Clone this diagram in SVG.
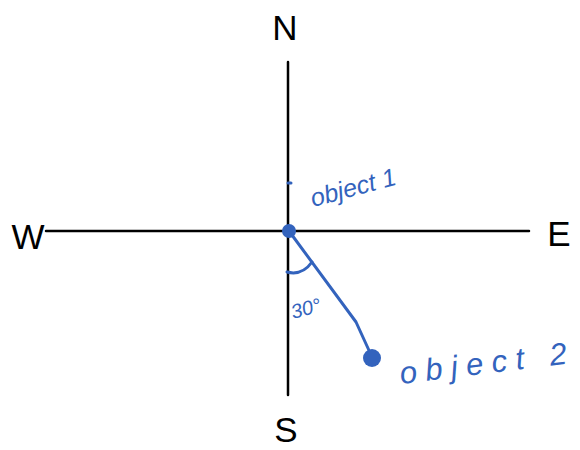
<svg xmlns="http://www.w3.org/2000/svg" width="580" height="450" viewBox="0 0 580 450">
<style>
.axis{stroke:#000;stroke-width:2.5;fill:none;stroke-linecap:round}
.blue{stroke:#3363bd;stroke-width:3;fill:none;stroke-linecap:round;stroke-linejoin:round}
.dir{font-family:"Liberation Sans",Arial,sans-serif;font-size:35px;fill:#000;text-anchor:middle}
.lbl{font-family:"Liberation Sans",Arial,sans-serif;fill:#3363bd;font-style:italic}
</style>
<rect width="580" height="450" fill="#fff"/>
<g id="connectors">
<line class="axis" x1="288" y1="62" x2="288" y2="395"/>
<line class="axis" x1="46" y1="231" x2="529" y2="231"/>
<path class="blue" d="M289,231 L356,322 L372,357"/>
<path class="blue" d="M287,272 Q302,276 312,262"/>
<line class="blue" x1="288" y1="183" x2="291" y2="183"/>
</g>
<g id="N"><text class="dir" x="285" y="40">N</text></g>
<g id="S"><text class="dir" x="286" y="442">S</text></g>
<g id="W"><text class="dir" x="28" y="249">W</text></g>
<g id="E"><text class="dir" x="559" y="246">E</text></g>
<g id="object1">
<circle cx="289" cy="231" r="7" fill="#3363bd"/>
<text class="lbl" font-size="25" x="313" y="207" transform="rotate(-15 313 207)">object 1</text>
</g>
<g id="object2">
<circle cx="372" cy="358" r="9" fill="#3363bd"/>
<text class="lbl" font-size="31" x="401" y="384" textLength="168" lengthAdjust="spacing" transform="rotate(-7 401 384)">object 2</text>
</g>
<g id="angle"><text class="lbl" font-size="20" x="293" y="319" transform="rotate(-15 293 319)">30°</text></g>
</svg>
